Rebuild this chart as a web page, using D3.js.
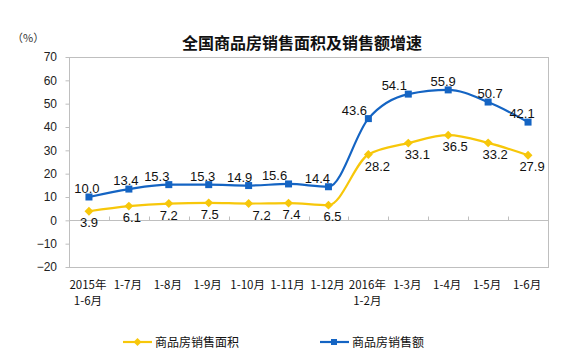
<!DOCTYPE html>
<html>
<head>
<meta charset="utf-8">
<script src="https://cdn.jsdelivr.net/npm/d3@7"></script>
<style>
	body { margin: 0; background: #fff; }
	text { font-family: "Liberation Sans", Arial, sans-serif; }
	.cjk { font-family: "Noto Sans CJK SC", sans-serif; }
</style>
</head>
<body>
<div id="chart"></div>
<script>
// data
const categories = [
	["2015年", "1-6月"], ["1-7月"], ["1-8月"], ["1-9月"], ["1-10月"], ["1-11月"],
	["1-12月"], ["2016年", "1-2月"], ["1-3月"], ["1-4月"], ["1-5月"], ["1-6月"]
]
const areaGrowth = [3.9, 6.1, 7.2, 7.5, 7.2, 7.4, 6.5, 28.2, 33.1, 36.5, 33.2, 27.9]
const salesGrowth = [10.0, 13.4, 15.3, 15.3, 14.9, 15.6, 14.4, 43.6, 54.1, 55.9, 50.7, 42.1]
const yTicks = [-20, -10, 0, 10, 20, 30, 40, 50, 60, 70]
const seriesNames = ["商品房销售面积", "商品房销售额"]

const W = 569, H = 361
const MARGIN = { TOP: 57, BOTTOM: 94, LEFT: 69, RIGHT: 21 }
const WIDTH = W - MARGIN.LEFT - MARGIN.RIGHT
const HEIGHT = H - MARGIN.TOP - MARGIN.BOTTOM

const BLUE = "#1464c3"
const YELLOW = "#f7c70a"
const GRAY = "#bfbfbf"

// hand placed label nudges (like in the original)
const blueDx = [-2, -3, -12, -6, -9, -14, -11, -14, -14, -5, 2, -6]
const yellowDx = [0, 3, 0, 1, 13, 3, 4, 9, 9, 7, 7, 4]

const svg = d3.select("#chart")
	.append("svg")
		.attr("width", W)
		.attr("height", H)

svg.append("text")
	.attr("class", "cjk")
	.attr("x", 302)
	.attr("y", 49)
	.attr("text-anchor", "middle")
	.attr("font-size", 16)
	.attr("font-weight", "bold")
	.attr("fill", "#111")
	.text("全国商品房销售面积及销售额增速")

svg.append("text")
	.attr("class", "cjk")
	.attr("x", 12)
	.attr("y", 42)
	.attr("font-size", 11)
	.attr("fill", "#333")
	.text("（%）")

const g = svg.append("g")
	.attr("transform", `translate(${MARGIN.LEFT}, ${MARGIN.TOP})`)

const x = d3.scaleBand()
	.domain(d3.range(categories.length))
	.range([0, WIDTH])

const y = d3.scaleLinear()
	.domain([-20, 70])
	.range([HEIGHT, 0])

const cx = i => x(i) + x.bandwidth() / 2

// frame
g.append("rect")
	.attr("x", 0.5).attr("y", 0.5)
	.attr("width", WIDTH).attr("height", HEIGHT)
	.attr("fill", "none")
	.attr("stroke", GRAY)

// y axis
const yAxis = g.append("g")
	.call(d3.axisLeft(y).tickValues(yTicks).tickSize(4).tickPadding(8).tickFormat(d3.format("d")))
yAxis.select(".domain").remove()
yAxis.selectAll(".tick line").attr("stroke", GRAY).attr("transform", "translate(0.5,0)")
yAxis.selectAll(".tick text")
	.attr("font-size", 12)
	.attr("fill", "#222")
	.attr("font-family", "Liberation Sans, Arial, sans-serif")

// zero line with inner ticks
const y0 = Math.round(y(0)) + 0.5
g.append("line")
	.attr("x1", 0).attr("x2", WIDTH)
	.attr("y1", y0).attr("y2", y0)
	.attr("stroke", GRAY)
g.selectAll(".xtick")
	.data(d3.range(1, categories.length))
	.enter().append("line")
		.attr("x1", d => Math.round(x(d)) + 0.5)
		.attr("x2", d => Math.round(x(d)) + 0.5)
		.attr("y1", y0 - 4)
		.attr("y2", y0)
		.attr("stroke", GRAY)

// category labels, one text per line
categories.forEach((lines, i) => {
	lines.forEach((t, k) => {
		g.append("text")
			.attr("class", "cjk")
			.attr("text-anchor", "middle")
			.attr("font-size", 11.5)
			.attr("fill", "#111")
			.attr("x", cx(i) - 1)
			.attr("y", HEIGHT + 22 + k * 16)
			.text(t)
	})
})

const line = d3.line()
	.x((d, i) => cx(i))
	.y(d => y(d))
	.curve(d3.curveMonotoneX)

// blue series
g.append("path")
	.datum(salesGrowth)
	.attr("d", line)
	.attr("fill", "none")
	.attr("stroke", BLUE)
	.attr("stroke-width", 2.2)

g.selectAll(".sq")
	.data(salesGrowth)
	.enter().append("rect")
		.attr("x", (d, i) => cx(i) - 3.5)
		.attr("y", d => y(d) - 3.5)
		.attr("width", 7).attr("height", 7)
		.attr("fill", BLUE)

// yellow series
g.append("path")
	.datum(areaGrowth)
	.attr("d", line)
	.attr("fill", "none")
	.attr("stroke", YELLOW)
	.attr("stroke-width", 2.2)

g.selectAll(".dia")
	.data(areaGrowth)
	.enter().append("path")
		.attr("d", d3.symbol(d3.symbolDiamond2, 50))
		.attr("transform", (d, i) => `translate(${cx(i)}, ${y(d)})`)
		.attr("fill", YELLOW)

// value labels
g.selectAll(".lblB")
	.data(salesGrowth)
	.enter().append("text")
		.attr("x", (d, i) => cx(i) + blueDx[i])
		.attr("y", d => y(d) - 4)
		.attr("text-anchor", "middle")
		.attr("font-size", 13)
		.attr("fill", "#111")
		.text(d => d.toFixed(1))

g.selectAll(".lblY")
	.data(areaGrowth)
	.enter().append("text")
		.attr("x", (d, i) => cx(i) + yellowDx[i])
		.attr("y", d => y(d) + 16)
		.attr("text-anchor", "middle")
		.attr("font-size", 13)
		.attr("fill", "#111")
		.text(d => d.toFixed(1))

// legend
const legend = svg.append("g")
const legendItems = [
	{ name: seriesNames[0], color: YELLOW, x0: 123, shape: "diamond" },
	{ name: seriesNames[1], color: BLUE, x0: 320, shape: "square" }
]
const ly = 342
legendItems.forEach(item => {
	legend.append("line")
		.attr("x1", item.x0).attr("x2", item.x0 + 29)
		.attr("y1", ly).attr("y2", ly)
		.attr("stroke", item.color)
		.attr("stroke-width", 2.2)
	if (item.shape === "diamond") {
		legend.append("path")
			.attr("d", d3.symbol(d3.symbolDiamond2, 40))
			.attr("transform", `translate(${item.x0 + 14.5}, ${ly})`)
			.attr("fill", item.color)
	} else {
		legend.append("rect")
			.attr("x", item.x0 + 11).attr("y", ly - 3)
			.attr("width", 6).attr("height", 6)
			.attr("fill", item.color)
	}
	legend.append("text")
		.attr("class", "cjk")
		.attr("x", item.x0 + 32)
		.attr("y", ly + 4.5)
		.attr("font-size", 12)
		.attr("fill", "#111")
		.text(item.name)
})
</script>
</body>
</html>
